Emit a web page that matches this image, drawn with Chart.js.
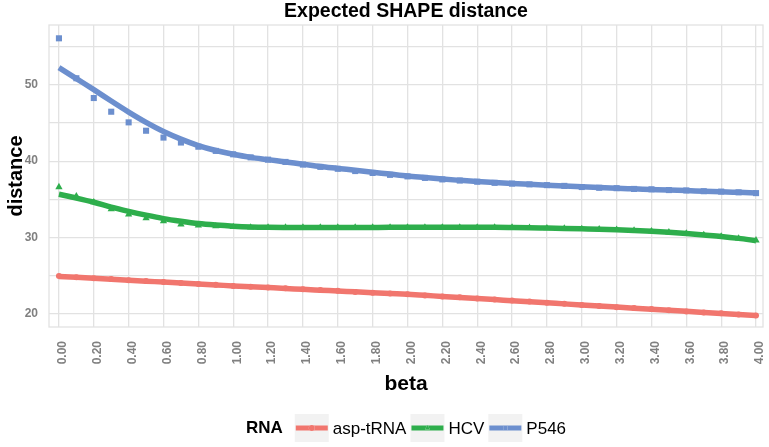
<!DOCTYPE html>
<html>
<head>
<meta charset="utf-8">
<script src="https://cdn.jsdelivr.net/npm/chart.js@4/dist/chart.umd.min.js"></script>
<style>
  html, body { margin: 0; padding: 0; background: #ffffff; }
  #wrap { width: 769px; height: 447px; }
</style>
</head>
<body>
<div id="wrap"><canvas id="c" width="769" height="447"></canvas></div>
<script>
// ---------- DATA ----------
const betas = [0.0,0.1,0.2,0.3,0.4,0.5,0.6,0.7,0.8,0.9,1.0,1.1,1.2,1.3,1.4,1.5,1.6,1.7,1.8,1.9,2.0,
               2.1,2.2,2.3,2.4,2.5,2.6,2.7,2.8,2.9,3.0,3.1,3.2,3.3,3.4,3.5,3.6,3.7,3.8,3.9,4.0];

const aspPoints = [24.9,24.75,24.6,24.5,24.35,24.25,24.1,24.0,23.85,23.75,23.6,23.5,23.4,23.3,23.15,23.05,22.95,22.8,22.7,22.6,22.5,
                   22.35,22.2,22.1,21.95,21.8,21.7,21.55,21.4,21.25,21.1,20.95,20.8,20.7,20.55,20.4,20.25,20.1,20.0,19.85,19.7];
const aspFit    = [24.85,24.73,24.6,24.48,24.35,24.23,24.1,23.98,23.85,23.73,23.6,23.49,23.38,23.27,23.15,23.04,22.93,22.82,22.71,22.6,22.5,
                   22.36,22.22,22.08,21.94,21.8,21.66,21.52,21.38,21.24,21.1,20.96,20.82,20.68,20.54,20.4,20.26,20.12,19.98,19.84,19.7];

const hcvPoints = [36.6,35.4,34.6,33.7,33.0,32.5,32.1,31.7,31.55,31.45,31.35,31.3,31.3,31.3,31.3,31.3,31.3,31.3,31.3,31.3,31.3,
                   31.3,31.3,31.3,31.3,31.3,31.3,31.25,31.2,31.15,31.1,31.05,31.0,30.9,30.8,30.65,30.5,30.3,30.1,29.85,29.6];
const hcvFit    = [35.65,35.15,34.6,33.95,33.4,32.9,32.45,32.1,31.8,31.6,31.45,31.35,31.3,31.28,31.27,31.27,31.27,31.28,31.29,31.3,31.3,
                   31.3,31.3,31.3,31.3,31.3,31.28,31.25,31.2,31.15,31.1,31.05,30.98,30.9,30.8,30.66,30.5,30.3,30.1,29.85,29.55];

const p546Points = [56.15,50.9,48.3,46.5,45.1,44.0,43.1,42.45,41.9,41.35,40.9,40.5,40.2,39.9,39.55,39.25,39.0,38.7,38.45,38.2,38.0,
                    37.8,37.6,37.45,37.3,37.15,37.05,36.95,36.85,36.75,36.6,36.5,36.45,36.35,36.3,36.2,36.15,36.05,36.0,35.9,35.8];
const p546Fit    = [52.3,50.85,49.4,47.9,46.45,45.1,43.9,42.9,42.05,41.4,40.9,40.5,40.2,39.9,39.6,39.3,39.05,38.8,38.55,38.3,38.05,
                    37.85,37.65,37.48,37.32,37.18,37.06,36.95,36.85,36.74,36.63,36.53,36.44,36.36,36.28,36.2,36.13,36.05,35.98,35.9,35.82];

const xTickLabels = ["0.00","0.20","0.40","0.60","0.80","1.00","1.20","1.40","1.60","1.80","2.00",
                     "2.20","2.40","2.60","2.80","3.00","3.20","3.40","3.60","3.80","4.00"];
const yTickLabels = ["20","30","40","50"];

const seriesNames = ["asp-tRNA", "HCV", "P546"];
const seriesColors = ["#F1766E", "#2EAE4C", "#6C8FCE"];
const pointStyles = ["circle", "triangle", "rect"];

// ---------- BUILD ----------
const pts = (ys) => betas.map((b, i) => ({x: b, y: ys[i]}));
const pointSets = [aspPoints, hcvPoints, p546Points];
const fitSets = [aspFit, hcvFit, p546Fit];
const pointRadii = [3, 4.2, 4.3];

const datasets = [];
for (let i = 0; i < 3; i++) {
  datasets.push({
    label: seriesNames[i] + " points",
    data: pts(pointSets[i]),
    showLine: false,
    pointStyle: pointStyles[i],
    pointRadius: pointRadii[i],
    pointBackgroundColor: seriesColors[i],
    pointBorderColor: seriesColors[i],
    pointBorderWidth: 0,
    order: 0
  });
}
for (let i = 0; i < 3; i++) {
  datasets.push({
    label: seriesNames[i],
    data: pts(fitSets[i]),
    showLine: true,
    borderColor: seriesColors[i],
    borderWidth: 5.5,
    pointRadius: 0,
    tension: 0.4,
    cubicInterpolationMode: 'monotone',
    fill: false,
    order: 1
  });
}

const GRID = '#e2e2e2';
const FONT = '"Liberation Sans", Arial, Helvetica, sans-serif';

const decor = {
  id: 'decor',
  beforeDatasetsDraw(chart) {
    const {ctx, chartArea: a} = chart;
    ctx.save();
    ctx.strokeStyle = GRID;
    ctx.lineWidth = 1.3;
    ctx.strokeRect(a.left, a.top, a.right - a.left, a.bottom - a.top);
    ctx.restore();
  },
  afterDraw(chart) {
    const {ctx, chartArea: a} = chart;
    const cx = (a.left + a.right) / 2;
    ctx.save();
    ctx.fillStyle = '#000';
    ctx.textAlign = 'center';
    ctx.textBaseline = 'middle';
    // title
    ctx.font = 'bold 19.5px ' + FONT;
    ctx.fillText('Expected SHAPE distance', cx, 12);
    // x title
    ctx.font = 'bold 21px ' + FONT;
    ctx.fillText('beta', cx, 384);
    // y title
    ctx.font = 'bold 20px ' + FONT;
    ctx.save();
    ctx.translate(16, (a.top + a.bottom) / 2);
    ctx.rotate(-Math.PI / 2);
    ctx.fillText('distance', 0, 0);
    ctx.restore();

    // legend
    const ly = 428;
    const keyW = 34, keyH = 28, gapKT = 4, gapItem = 4, gapTitle = 12;
    ctx.font = 'bold 17px ' + FONT;
    const titleW = ctx.measureText('RNA').width;
    ctx.font = '17px ' + FONT;
    const textW = seriesNames.map(s => ctx.measureText(s).width);
    let total = titleW + gapTitle;
    for (let i = 0; i < 3; i++) total += keyW + gapKT + textW[i] + (i < 2 ? gapItem : 0);
    let x = cx - total / 2;
    ctx.textAlign = 'left';
    ctx.font = 'bold 17px ' + FONT;
    ctx.fillStyle = '#000';
    ctx.fillText('RNA', x, ly);
    x += titleW + gapTitle;
    for (let i = 0; i < 3; i++) {
      ctx.fillStyle = '#f2f2f2';
      ctx.fillRect(x, ly - keyH / 2, keyW, keyH);
      ctx.strokeStyle = seriesColors[i];
      ctx.lineWidth = 5;
      ctx.beginPath();
      ctx.moveTo(x + 1, ly);
      ctx.lineTo(x + keyW - 1, ly);
      ctx.stroke();
      Chart.helpers.drawPoint(ctx, {pointStyle: pointStyles[i], radius: 3, borderWidth: 0,
        backgroundColor: seriesColors[i]}, x + keyW / 2, ly);
      ctx.fillStyle = seriesColors[i];
      ctx.fill();
      x += keyW + gapKT;
      ctx.fillStyle = '#000';
      ctx.font = '17px ' + FONT;
      ctx.fillText(seriesNames[i], x, ly + 1);
      x += textW[i] + gapItem;
    }
    ctx.restore();
  }
};

new Chart(document.getElementById('c'), {
  type: 'scatter',
  data: { datasets },
  options: {
    responsive: false,
    animation: false,
    devicePixelRatio: 1,
    layout: { padding: { top: 25, right: 6, left: 0, bottom: 0 } },
    plugins: { legend: { display: false }, title: { display: false }, tooltip: { enabled: false } },
    scales: {
      x: {
        type: 'linear',
        min: -0.057, max: 4.04,
        afterFit(scale) { scale.height = 120; scale.paddingLeft = 0; scale.paddingRight = 0; },
        border: { display: false },
        grid: { color: GRID, lineWidth: 1.3, drawTicks: false },
        ticks: {
          stepSize: 0.2,
          includeBounds: false,
          autoSkip: false,
          minRotation: 90, maxRotation: 90,
          padding: 14,
          labelOffset: 4,
          color: '#808080',
          font: { family: FONT, size: 12, weight: 'bold' },
          callback(v) {
            const s = v.toFixed(2);
            return xTickLabels.includes(s) ? s : '';
          }
        }
      },
      y: {
        type: 'linear',
        min: 18.2, max: 57.9,
        afterFit(scale) { scale.width = 49; scale.paddingTop = 0; scale.paddingBottom = 0; },
        border: { display: false },
        grid: { color: GRID, lineWidth: 1.3, drawTicks: false },
        ticks: {
          stepSize: 5,
          includeBounds: false,
          padding: 11,
          color: '#808080',
          font: { family: FONT, size: 12, weight: 'bold' },
          callback(v) {
            const s = String(Math.round(v));
            return (Math.abs(v - Math.round(v)) < 1e-6 && yTickLabels.includes(s)) ? s : '';
          }
        }
      }
    }
  },
  plugins: [decor]
});
</script>
</body>
</html>
